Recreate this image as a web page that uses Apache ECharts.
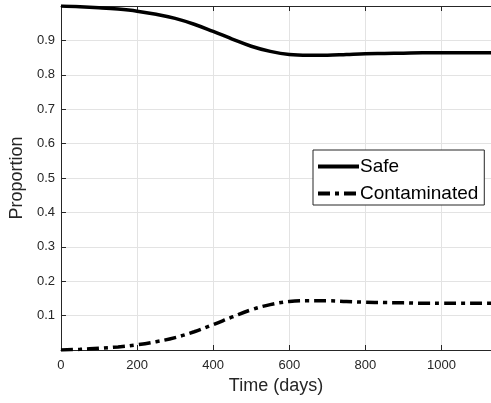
<!DOCTYPE html>
<html><head><meta charset="utf-8">
<script src="https://cdn.jsdelivr.net/npm/echarts@6/dist/echarts.min.js"></script>
<style>html,body{margin:0;padding:0;background:#fff}#c{width:491px;height:403px}</style>
</head><body><div id="c"></div>
<script>
const days = [0,50,100,150,200,250,300,350,400,450,500,550,600,650,700,750,800,850,900,950,1000,1050,1100,1130];
const safe = [1.0,0.998,0.995,0.991,0.985,0.976,0.964,0.947,0.926,0.904,0.883,0.868,0.859,0.857,0.857,0.859,0.861,0.862,0.863,0.864,0.864,0.864,0.864,0.864];
const contaminated = [0.0,0.002,0.005,0.009,0.015,0.024,0.036,0.053,0.074,0.096,0.117,0.132,0.141,0.143,0.143,0.141,0.139,0.138,0.137,0.136,0.136,0.136,0.136,0.136];
const seriesNames = ['Safe','Contaminated'];

const chart = echarts.init(document.getElementById('c'));
const font = 'Liberation Sans, Arial, sans-serif';
const axisCol = '#262626';
chart.setOption({
  animation:false,
  grid:{left:59, top:6, right:0, bottom:53},
  legend:{
    data: seriesNames, orient:'vertical', left:313, top:150,
    itemWidth:41, itemHeight:20, itemGap:8,
    padding:[7,6,2,3],
    borderColor:'#262626', borderWidth:1, backgroundColor:'#fff',
    itemStyle:{opacity:0},
    lineStyle:{width:4},
    textStyle:{fontFamily:font, fontSize:19, color:'#000', padding:[0,0,0,-4]}
  },
  xAxis:[{
    type:'value', min:0, max:1130, interval:200,
    name:'Time (days)', nameLocation:'middle', nameGap:27,
    nameTextStyle:{fontFamily:font, fontSize:18, color:'#262626'},
    axisLine:{lineStyle:{color:axisCol}},
    axisTick:{inside:true, length:5, lineStyle:{color:axisCol}},
    axisLabel:{fontFamily:font, fontSize:13, color:'#262626', margin:9, showMaxLabel:false,
      formatter:v => String(v)},
    splitLine:{show:true, lineStyle:{color:'#e3e3e3'}}
  },{
    type:'value', position:'top', min:0, max:1130, interval:200,
    axisLine:{show:true, lineStyle:{color:axisCol}},
    axisTick:{show:true, inside:true, length:5, lineStyle:{color:axisCol}},
    axisLabel:{show:false}, splitLine:{show:false}
  }],
  yAxis:{
    type:'value', min:0, max:1, interval:0.1,
    name:'Proportion', nameLocation:'middle', nameGap:30,
    nameTextStyle:{fontFamily:font, fontSize:18, color:'#262626'},
    axisLine:{show:true, lineStyle:{color:axisCol}},
    axisTick:{show:true, inside:true, length:5, lineStyle:{color:axisCol}},
    axisLabel:{fontFamily:font, fontSize:13, color:'#262626', margin:6,
      formatter:v => (v<=0.001||v>=0.999) ? '' : v.toFixed(1)},
    splitLine:{show:true, lineStyle:{color:'#e3e3e3'}}
  },
  series:[{
    name:seriesNames[0], type:'line', smooth:0.4, showSymbol:false, symbol:'none',
    data: days.map((d,i)=>[d,safe[i]]),
    lineStyle:{color:'#000', width:3.5}, itemStyle:{color:'#000'}
  },{
    name:seriesNames[1], type:'line', smooth:0.4, showSymbol:false, symbol:'none',
    data: days.map((d,i)=>[d,contaminated[i]]),
    lineStyle:{color:'#000', width:3.5, type:[12,5,4,5]}, itemStyle:{color:'#000'}
  }]
});
</script></body></html>
